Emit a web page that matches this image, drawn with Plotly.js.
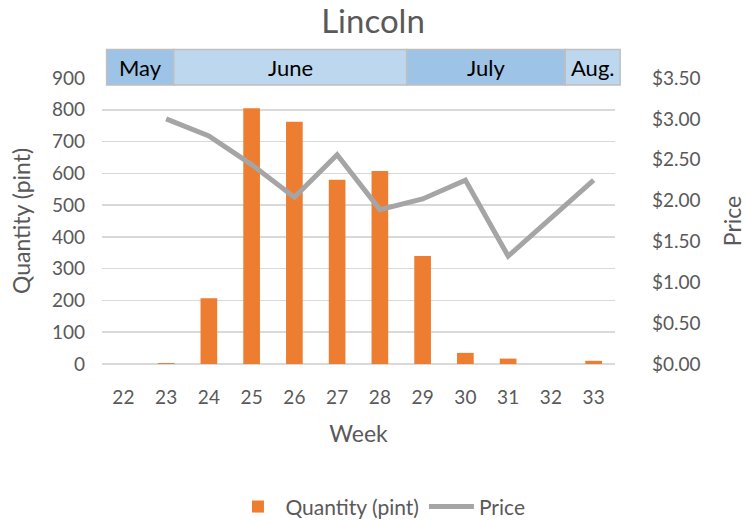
<!DOCTYPE html>
<html>
<head>
<meta charset="utf-8">
<script src="https://cdn.plot.ly/plotly-3.0.1.min.js"></script>
<style>html,body{margin:0;padding:0;background:#fff;}#chart{width:746px;height:521px;}</style>
</head>
<body>
<div id="chart"></div>
<script>
const weeks = [22, 23, 24, 25, 26, 27, 28, 29, 30, 31, 32, 33];
const quantity = [null, 3, 207, 805, 762, 580, 607, 340, 35, 17, null, 10];
const price = [null, 3.00, 2.79, 2.44, 2.04, 2.56, 1.89, 2.02, 2.25, 1.32, null, 2.25];
const months = ["May", "June", "July", "Aug."];
const monthStart = [0.009, 0.140, 0.594, 0.903];
const monthEnd = [0.140, 0.594, 0.903, 1.010];
const monthColors = ["#9DC3E6", "#BDD7EE", "#9DC3E6", "#BDD7EE"];

const FONT = "Lato, 'Open Sans', sans-serif";
const GREY = "#595959";

const traces = [
  {
    type: "bar", name: "Quantity (pint)", x: weeks, y: quantity,
    marker: {color: "#ED7D31"}, width: 0.39, yaxis: "y"
  },
  {
    type: "scatter", mode: "lines", name: "Price", x: weeks, y: price,
    line: {color: "#A5A5A5", width: 5}, connectgaps: true, yaxis: "y2"
  }
];

const shapes = [];
const annotations = [];
months.forEach((m, i) => {
  shapes.push({
    type: "rect", xref: "paper", yref: "paper",
    x0: monthStart[i], x1: monthEnd[i], y0: 0.9755, y1: 1.100,
    fillcolor: monthColors[i], line: {color: "#BFBFBF", width: 1.5}, layer: "above"
  });
  annotations.push({
    xref: "paper", yref: "paper", x: (monthStart[i] + monthEnd[i]) / 2, y: 1.0378,
    xanchor: "center", yanchor: "middle", showarrow: false, text: m,
    font: {family: FONT, size: 22, color: "#000000"}
  });
});

const layout = {
  width: 746, height: 521,
  margin: {l: 101.5, r: 131, t: 78, b: 156.7},
  paper_bgcolor: "#ffffff", plot_bgcolor: "#ffffff",
  font: {family: FONT, color: GREY, size: 19},
  title: {text: "Lincoln", x: 0.5, xanchor: "center", y: 0.958, yanchor: "middle",
          font: {family: FONT, size: 33, color: GREY}},
  showlegend: true,
  legend: {orientation: "h", xref: "container", yref: "container",
           x: 0.51, xanchor: "center", y: 0.027, yanchor: "middle", itemwidth: 45,
           font: {family: FONT, size: 21, color: GREY}, bgcolor: "rgba(0,0,0,0)"},
  xaxis: {
    type: "linear", range: [21.5, 33.5], tickvals: weeks, ticktext: weeks.map(String),
    showgrid: false, zeroline: false, showline: false, ticks: "", automargin: false,
    ticklabelstandoff: 20,
    tickfont: {family: FONT, size: 19, color: GREY},
    title: {text: "Week", standoff: 18, font: {family: FONT, size: 23, color: GREY}}
  },
  yaxis: {
    range: [0, 900], dtick: 100, showgrid: true, gridcolor: "#D9D9D9", gridwidth: 1.5,
    zeroline: true, zerolinecolor: "#D9D9D9", zerolinewidth: 1.5, showline: false, ticks: "",
    ticklabelstandoff: 16, automargin: false,
    tickfont: {family: FONT, size: 19, color: GREY},
    title: {text: "Quantity (pint)", standoff: 14, font: {family: FONT, size: 23, color: GREY}}
  },
  yaxis2: {
    overlaying: "y", side: "right", range: [0, 3.5], dtick: 0.5, tickformat: "$.2f",
    showgrid: false, zeroline: false, showline: false, ticks: "", automargin: false,
    ticklabelstandoff: 36,
    tickfont: {family: FONT, size: 19, color: GREY},
    title: {text: "Price", standoff: 26, font: {family: FONT, size: 23, color: GREY}}
  },
  shapes: shapes,
  annotations: annotations
};

Plotly.newPlot("chart", traces, layout, {staticPlot: true, displayModeBar: false});
</script>
</body>
</html>
